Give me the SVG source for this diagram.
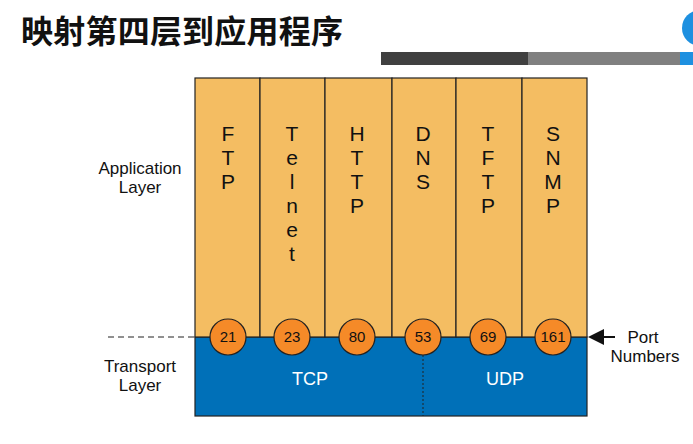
<svg xmlns="http://www.w3.org/2000/svg" width="693" height="444" viewBox="0 0 693 444">
<style>
.col{fill:#f4bd62;stroke:#222;stroke-width:1.2}
.lt{font-family:"Liberation Sans",Arial,sans-serif;font-size:21px;fill:#111;text-anchor:middle}
.sl{font-family:"Liberation Sans",Arial,sans-serif;font-size:17px;fill:#111;text-anchor:middle}
.pc{fill:#f58a28;stroke:#222;stroke-width:1.2}
.pt{font-family:"Liberation Sans",Arial,sans-serif;font-size:15px;fill:#111;text-anchor:middle}
.pr{font-family:"Liberation Sans",Arial,sans-serif;font-size:18px;fill:#fff;text-anchor:middle}
</style>
<defs><marker id="ah" markerWidth="8" markerHeight="8" refX="1" refY="4" orient="auto"><path d="M8,0 L0,4 L8,8 z" fill="#111"/></marker></defs>
<rect width="693" height="444" fill="#fff"/>
<text x="21" y="43" font-family="'Noto Sans CJK SC',sans-serif" font-size="32" font-weight="bold" fill="#111" textLength="322">映射第四层到应用程序</text>
<rect x="381" y="52" width="147" height="13" fill="#404040"/>
<rect x="528" y="52" width="152" height="13" fill="#808080"/>
<rect x="680" y="52" width="13" height="13" fill="#1e90e0"/>
<circle cx="700" cy="28" r="18" fill="#1e90e0"/>
<g id="tcpudp"><rect x="195" y="337" width="392" height="79" fill="#0070b8" stroke="#222" stroke-width="1.2"/>
<line x1="423" y1="355" x2="423" y2="416" stroke="#222" stroke-dasharray="2,2"/>
<text class="pr" x="310" y="385">TCP</text><text class="pr" x="505" y="385">UDP</text></g>
<g id="apps">
<rect class="col" x="195" y="78" width="65" height="259"/>
<rect class="col" x="260" y="78" width="65" height="259"/>
<rect class="col" x="325" y="78" width="67" height="259"/>
<rect class="col" x="392" y="78" width="64" height="259"/>
<rect class="col" x="456" y="78" width="66" height="259"/>
<rect class="col" x="522" y="78" width="65" height="259"/>
<text class="lt"><tspan x="228" y="141">F</tspan><tspan x="228" y="165">T</tspan><tspan x="228" y="189">P</tspan></text>
<text class="lt"><tspan x="292" y="141">T</tspan><tspan x="292" y="165">e</tspan><tspan x="292" y="189">l</tspan><tspan x="292" y="213">n</tspan><tspan x="292" y="237">e</tspan><tspan x="292" y="261">t</tspan></text>
<text class="lt"><tspan x="357" y="141">H</tspan><tspan x="357" y="165">T</tspan><tspan x="357" y="189">T</tspan><tspan x="357" y="213">P</tspan></text>
<text class="lt"><tspan x="423" y="141">D</tspan><tspan x="423" y="165">N</tspan><tspan x="423" y="189">S</tspan></text>
<text class="lt"><tspan x="488" y="141">T</tspan><tspan x="488" y="165">F</tspan><tspan x="488" y="189">T</tspan><tspan x="488" y="213">P</tspan></text>
<text class="lt"><tspan x="553" y="141">S</tspan><tspan x="553" y="165">N</tspan><tspan x="553" y="189">M</tspan><tspan x="553" y="213">P</tspan></text>
</g>
<g id="ports">
<circle class="pc" cx="228" cy="337" r="18"/><text class="pt" x="228" y="342">21</text>
<circle class="pc" cx="292" cy="337" r="18"/><text class="pt" x="292" y="342">23</text>
<circle class="pc" cx="357" cy="337" r="18"/><text class="pt" x="357" y="342">80</text>
<circle class="pc" cx="423" cy="337" r="18"/><text class="pt" x="423" y="342">53</text>
<circle class="pc" cx="488" cy="337" r="18"/><text class="pt" x="488" y="342">69</text>
<circle class="pc" cx="553" cy="337" r="18"/><text class="pt" x="553" y="342">161</text>
</g>
<g id="connectors">
<line x1="108" y1="337" x2="195" y2="337" stroke="#222" stroke-width="1.2" stroke-dasharray="6,4"/>
<line x1="590" y1="337" x2="615" y2="337" stroke="#111" stroke-width="2" marker-start="url(#ah)"/>
</g>
<text class="sl"><tspan x="140" y="174">Application</tspan><tspan x="140" y="193">Layer</tspan></text>
<text class="sl"><tspan x="140" y="372">Transport</tspan><tspan x="140" y="391">Layer</tspan></text>
<text class="sl"><tspan x="643" y="343">Port</tspan><tspan x="645" y="362">Numbers</tspan></text>
</svg>
